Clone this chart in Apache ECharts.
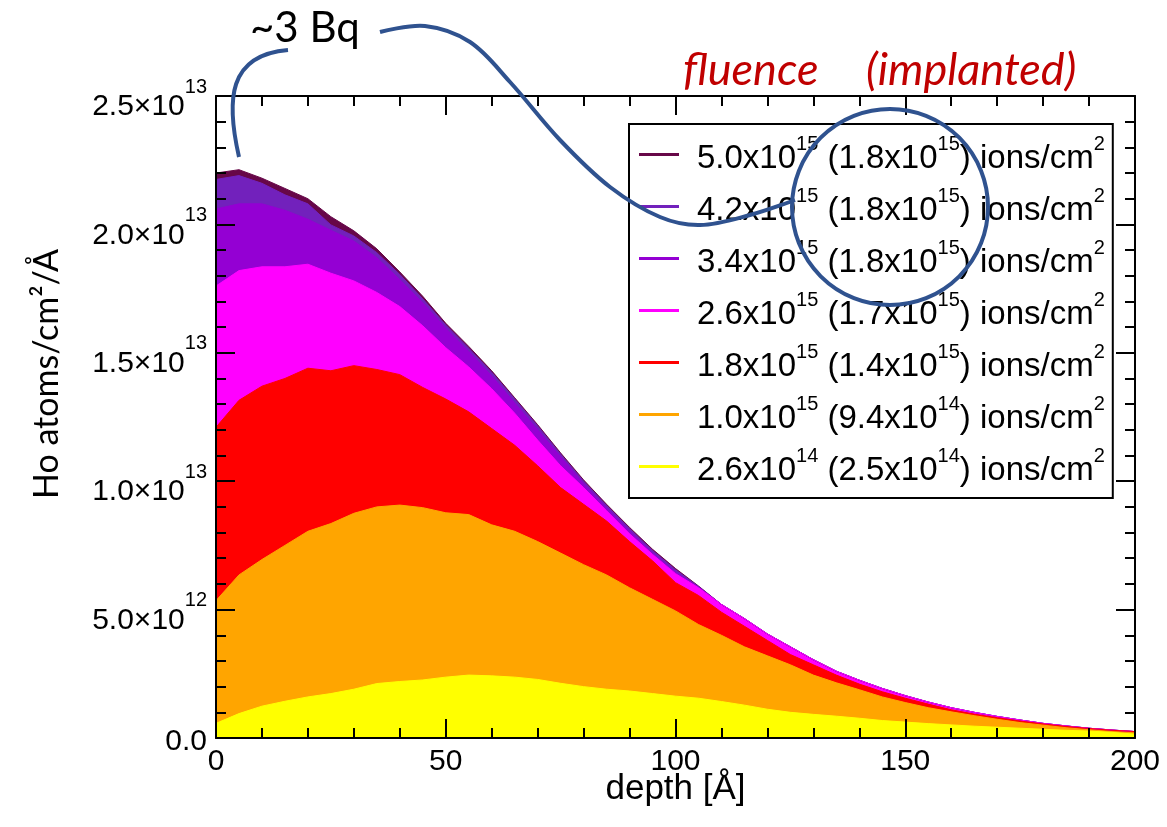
<!DOCTYPE html>
<html><head><meta charset="utf-8">
<script src="https://cdn.jsdelivr.net/npm/echarts@6/dist/echarts.min.js"></script>
<style>html,body{margin:0;padding:0;background:#fff}#c{width:1167px;height:827px}</style>
</head><body><div id="c"></div>
<script>
// depth in Å
const depth = [0,5,10,15,20,25,30,35,40,45,50,55,60,65,70,75,80,85,90,95,100,105,110,115,120,125,130,135,140,145,150,155,160,165,170,175,180,185,190,195,200];
// Ho atoms/cm²/Å, in units of 1e12
const f50e15 = [22.0,22.13,21.8,21.4,21.0,20.3,19.75,19.05,18.15,17.2,16.15,15.25,14.3,13.25,12.2,11.1,10.05,9.1,8.2,7.35,6.6,5.92,5.2,4.65,4.05,3.55,3.05,2.6,2.25,1.93,1.65,1.4,1.18,1.0,0.84,0.7,0.57,0.47,0.38,0.31,0.25];
const f42e15 = [21.75,21.9,21.6,21.15,20.8,19.98,19.55,18.9,18.05,17.1,16.08,15.18,14.24,13.2,12.15,11.05,10.0,9.05,8.15,7.3,6.55,5.9,5.2,4.65,4.05,3.55,3.05,2.6,2.25,1.93,1.65,1.4,1.18,1.0,0.84,0.7,0.57,0.47,0.38,0.31,0.25];
const f34e15 = [20.6,20.8,20.8,20.55,20.2,19.77,19.35,18.7,17.85,16.95,15.95,15.05,14.1,13.05,12.0,10.95,9.9,8.95,8.05,7.2,6.45,5.88,5.2,4.65,4.05,3.55,3.05,2.6,2.25,1.93,1.65,1.4,1.18,1.0,0.84,0.7,0.57,0.47,0.38,0.31,0.25];
const f26e15 = [17.6,18.2,18.35,18.35,18.45,18.1,17.8,17.35,16.8,16.05,15.2,14.45,13.6,12.65,11.6,10.6,9.75,8.85,7.95,7.15,6.4,5.85,5.2,4.65,4.05,3.55,3.05,2.6,2.25,1.93,1.65,1.4,1.18,1.0,0.84,0.7,0.57,0.47,0.38,0.31,0.25];
const f18e15 = [12.1,13.15,13.7,14.0,14.4,14.3,14.5,14.35,14.15,13.65,13.2,12.7,12.05,11.4,10.6,9.75,9.1,8.45,7.65,6.9,6.05,5.55,4.9,4.35,3.8,3.25,2.85,2.45,2.1,1.8,1.55,1.32,1.1,0.93,0.79,0.66,0.55,0.45,0.37,0.3,0.25];
const f10e15 = [5.35,6.35,6.95,7.5,8.05,8.35,8.75,9.0,9.07,8.97,8.77,8.7,8.3,8.05,7.65,7.2,6.75,6.35,5.85,5.4,4.95,4.42,4.0,3.55,3.2,2.85,2.45,2.15,1.88,1.6,1.38,1.18,1.02,0.87,0.73,0.6,0.5,0.4,0.32,0.25,0.2];
const f26e14 = [0.57,0.95,1.24,1.43,1.6,1.73,1.9,2.12,2.2,2.26,2.37,2.45,2.42,2.37,2.28,2.13,2.0,1.9,1.83,1.73,1.63,1.55,1.42,1.28,1.12,1.0,0.92,0.85,0.77,0.68,0.62,0.56,0.51,0.46,0.42,0.38,0.34,0.3,0.27,0.22,0.15];

const seriesValues = [f50e15, f42e15, f34e15, f26e15, f18e15, f10e15, f26e14];
const fluenceMant = ['5.0','4.2','3.4','2.6','1.8','1.0','2.6'];
const fluenceExp  = ['15','15','15','15','15','15','14'];
const implMant    = ['1.8','1.8','1.8','1.7','1.4','9.4','2.5'];
const implExp     = ['15','15','15','15','15','14','14'];
const colors = ['#670748','#7221BC','#9400D3','#FF00FF','#FF0000','#FFA500','#FFFF00'];
const xTicks = [0,50,100,150,200];
const yTicks = [0,5,10,15,20,25]; // units of 1e12

const names = fluenceMant.map((m,i)=>`${m}x10^${fluenceExp[i]} (${implMant[i]}x10^${implExp[i]}) ions/cm^2`);

const chart = echarts.init(document.getElementById('c'), null, {renderer:'canvas'});
const FONT = 'Liberation Sans';
const BLUE = '#2F528F';

const series = seriesValues.map((vals,i)=>({
  name: names[i], type:'line', xAxisIndex:0, yAxisIndex:0,
  data: depth.map((d,j)=>[d, vals[j]]),
  showSymbol:false, symbol:'none', smooth:false,
  lineStyle:{color:colors[i], width:1},
  itemStyle:{color:colors[i]},
  areaStyle:{color:colors[i], opacity:1},
  z: 2
}));

function common(){
  return {
    z: 10,
    axisLine:{show:true, onZero:false, lineStyle:{color:'#000', width:2}},
    axisTick:{show:true, inside:true, length:19, lineStyle:{color:'#000', width:2}},
    minorTick:{show:true, splitNumber:5, length:10, lineStyle:{color:'#000', width:2}},
    splitLine:{show:false}
  };
}

function yFmt(v){
  if (v === 0) return '{z|0.0}';
  const real = v*1e12;
  const e = Math.floor(Math.log10(real)+1e-9);
  const mant = (real/Math.pow(10,e)).toFixed(1);
  return `{m|${mant}×10}{s|${e}}`;
}

chart.setOption({
  animation:false,
  backgroundColor:'#fff',
  textStyle:{fontFamily:FONT},
  grid:{left:216, right:32, top:96, bottom:89, containLabel:false},
  xAxis:[
    Object.assign({type:'value', position:'bottom', min:xTicks[0], max:xTicks[xTicks.length-1], interval:50,
      name:'depth [Å]', nameLocation:'middle', nameGap:34, nameMoveOverlap:false,
      nameTextStyle:{fontFamily:FONT, fontSize:35, color:'#000'},
      axisLabel:{show:true, margin:9, fontFamily:FONT, fontSize:30, color:'#000'}}, common()),
    Object.assign({type:'value', position:'top', min:xTicks[0], max:xTicks[xTicks.length-1], interval:50,
      axisLabel:{show:false}}, common())
  ],
  yAxis:[
    Object.assign({type:'value', position:'left', min:yTicks[0], max:yTicks[yTicks.length-1], interval:5,
      name:'Ho atoms/cm²/Å', nameLocation:'middle', nameGap:152, nameRotate:90, nameMoveOverlap:false,
      nameTextStyle:{fontFamily:'Lato', fontSize:34, color:'#000', padding:[0,0,0,86]},
      axisLabel:{show:true, margin:9, formatter:yFmt, padding:[7,0,0,0],
        rich:{
          m:{fontFamily:FONT, fontSize:30, color:'#000', padding:[15,0,0,0]},
          s:{fontFamily:FONT, fontSize:20, color:'#000', verticalAlign:'top'},
          z:{fontFamily:FONT, fontSize:30, color:'#000'}
        }}}, common()),
    Object.assign({type:'value', position:'right', min:yTicks[0], max:yTicks[yTicks.length-1], interval:5,
      axisLabel:{show:false}}, common())
  ],
  legend:{
    show:true, orient:'vertical', left:629, top:124,
    data: names,
    icon:'rect', itemWidth:40, itemHeight:3, itemGap:11,
    padding:[10,8,11,10],
    backgroundColor:'#fff', borderColor:'#000', borderWidth:2, borderRadius:0,
    selectedMode:false,
    formatter: name => {
      const i = names.indexOf(name);
      return `{m|${fluenceMant[i]}x10}{s|${fluenceExp[i]}}{m| (${implMant[i]}x10}{s|${implExp[i]}}{m|) ions/cm}{s|2}`;
    },
    textStyle:{
      padding:[0,0,0,13],
      rich:{
        m:{fontFamily:FONT, fontSize:33, color:'#000', padding:[8,0,0,0]},
        s:{fontFamily:FONT, fontSize:20, color:'#000', verticalAlign:'top'}
      }
    },
    z: 5
  },
  series: series,
  graphic:[
    {type:'text', z:100, style:{x:250, y:28, text:'~3 Bq', font:'42px Lato', fill:'#000', verticalAlign:'middle'}},
    {type:'text', z:100, style:{x:683, y:70, text:'fluence', font:'italic 45px Lato', fill:'#C00000', verticalAlign:'middle'}},
    {type:'text', z:100, style:{x:866, y:70, text:'(implanted)', font:'italic 45px Lato', fill:'#C00000', verticalAlign:'middle'}},
    {type:'bezierCurve', z:100, shape:{x1:239, y1:157, cpx1:226, cpy1:100, cpx2:228, cpy2:55, x2:288, y2:50},
      style:{stroke:BLUE, lineWidth:4, fill:null}},
    {type:'polyline', z:100, shape:{points:[[380,32],[425,26],[470,42],[510,82],[560,140],[610,187],[660,217],[700,225],[750,215],[795,200]], smooth:0.35},
      style:{stroke:BLUE, lineWidth:4, fill:null}},
    {type:'circle', z:100, shape:{cx:890, cy:207, r:98}, style:{stroke:BLUE, lineWidth:4, fill:null}}
  ]
});
</script>
</body></html>
